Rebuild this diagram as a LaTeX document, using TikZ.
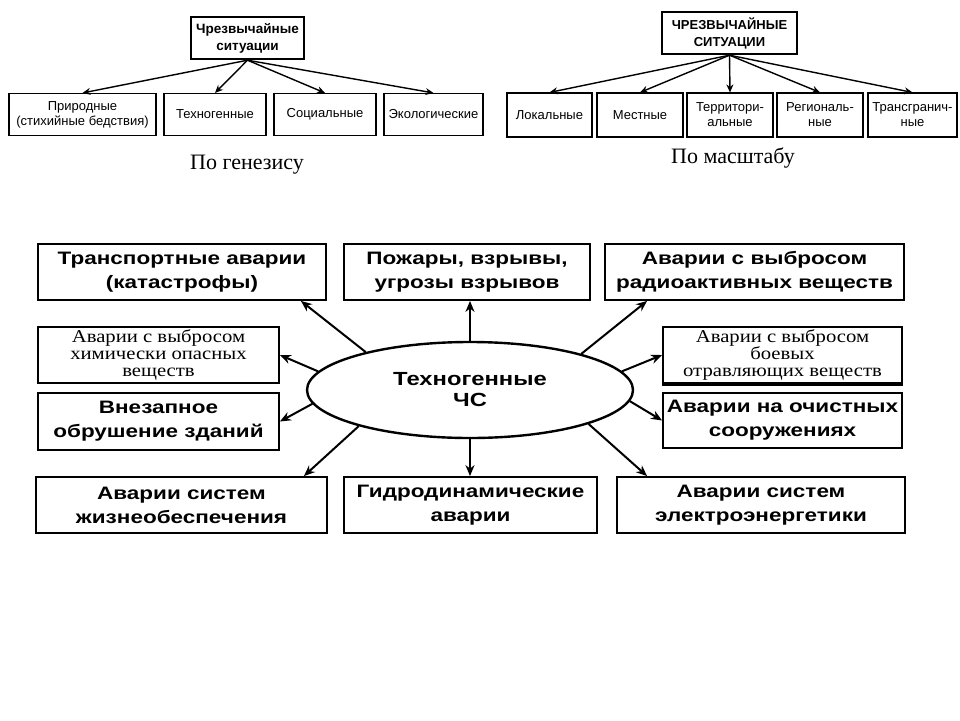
\documentclass[tikz,border=0pt]{standalone}
\usepackage{fontspec}
\usepackage{tikz}
\usetikzlibrary{arrows.meta,shapes.geometric}
\setmainfont{Liberation Sans}
\newfontfamily\widesans[FakeStretch=1.25]{Liberation Sans}
\newfontfamily\serifru{Liberation Serif}
\newfontfamily\wideserif[FakeStretch=1.15]{Liberation Serif}

\begin{document}
\begin{tikzpicture}[x=1pt,y=-1pt,
    smallbox/.style={draw,line width=1.1pt,inner sep=0pt,align=center,
      minimum height=42pt,font=\fontsize{13}{15}\selectfont},
    headbox/.style={draw,line width=2.4pt,inner sep=0pt,align=center,
      minimum height=42pt,font=\bfseries\fontsize{13.5}{17}\selectfont},
    bigbox/.style={draw,line width=1.8pt,inner sep=0pt,align=center,
      minimum height=56pt,font=\widesans\bfseries\fontsize{18}{24}\selectfont},
    oldbox/.style={bigbox,font=\wideserif\fontsize{18}{17}\selectfont},
    arr/.style={-{Stealth[length=8pt,width=7pt]},line width=1.4pt},
    bigarr/.style={-{Stealth[length=11pt,width=9pt]},line width=2pt}]
  \useasboundingbox (0,0) rectangle (960,720);

  % по генезису
  \node[headbox,minimum width=113pt] (gtop) at (247.5,38) {Чрезвычайные\\ситуации};
  \node[smallbox,minimum width=147pt] (g1) at (82.5,114.5) {Природные\\(стихийные бедствия)};
  \node[smallbox,minimum width=102pt] (g2) at (215,114.5) {Техногенные};
  \node[smallbox,minimum width=102pt] (g3) at (325,114.5) {Социальные};
  \node[smallbox,minimum width=99pt] (g4) at (433.5,114.5) {Экологические};
  \node[font=\serifru\fontsize{22}{24}\selectfont] (genesis) at (247,165) {По генезису};

  \draw[arr] (gtop.south) -- (g1.north);
  \draw[arr] (gtop.south) -- (g2.north);
  \draw[arr] (gtop.south) -- (g3.north);
  \draw[arr] (gtop.south) -- (g4.north);

  % по масштабу
  \node[headbox,minimum width=135pt,font=\bfseries\fontsize{13}{17}\selectfont] (mtop) at (729.5,33) {ЧРЕЗВЫЧАЙНЫЕ\\СИТУАЦИИ};
  \node[smallbox,minimum width=85pt,minimum height=44pt] (m1) at (549.5,115) {Локальные};
  \node[smallbox,minimum width=86pt,minimum height=44pt] (m2) at (640,115) {Местные};
  \node[smallbox,minimum width=86pt,minimum height=44pt] (m3) at (730,115) {Территори-\\альные};
  \node[smallbox,minimum width=86pt,minimum height=44pt] (m4) at (820,115) {Региональ-\\ные};
  \node[smallbox,minimum width=89pt,minimum height=44pt] (m5) at (912.5,115) {Трансгранич-\\ные};
  \node[font=\serifru\fontsize{22}{24}\selectfont] (scale) at (733,158) {По масштабу};

  \draw[arr] (mtop.south) -- (m1.north);
  \draw[arr] (mtop.south) -- (m2.north);
  \draw[arr] (mtop.south) -- (m3.north);
  \draw[arr] (mtop.south) -- (m4.north);
  \draw[arr] (mtop.south) -- (m5.north);

  % техногенные ЧС
  \node[draw,ellipse,line width=2.4pt,minimum width=326pt,minimum height=96pt,inner sep=0pt,
    align=center,font=\widesans\bfseries\fontsize{19}{21}\selectfont] (tech) at (470,390) {Техногенные\\ЧС};

  \node[bigbox,minimum width=288pt] (transp) at (182,272) {Транспортные аварии\\(катастрофы)};
  \node[bigbox,minimum width=246pt] (fire) at (467,272) {Пожары, взрывы,\\угрозы взрывов};
  \node[bigbox,minimum width=299pt] (rad) at (754.5,272) {Аварии с выбросом\\радиоактивных веществ};
  \node[oldbox,minimum width=241pt] (chem) at (158.5,355) {Аварии с выбросом\\химически опасных\\веществ};
  \node[oldbox,minimum width=239pt] (war) at (782.5,355) {Аварии с выбросом\\боевых\\отравляющих веществ};
  \draw[line width=3.2pt] (war.south west) -- (war.south east);
  \node[bigbox,minimum width=241pt,minimum height=57pt] (build) at (158.5,421.5) {Внезапное\\обрушение зданий};
  \node[bigbox,minimum width=239pt,minimum height=55pt] (clean) at (782.5,420.5) {Аварии на очистных\\сооружениях};
  \node[bigbox,minimum width=291pt] (life) at (181.5,505) {Аварии систем\\жизнеобеспечения};
  \node[bigbox,minimum width=253pt] (hydro) at (470.5,505) {Гидродинамические\\аварии};
  \node[bigbox,minimum width=288pt] (power) at (761,505) {Аварии систем\\электроэнергетики};

  \draw[bigarr] (tech.160.6) -- ([xshift=-26pt]transp.south east);
  \draw[bigarr] (tech.north) -- (tech.north |- fire.south);
  \draw[bigarr] (tech.18.1) -- ([xshift=43pt]rad.south west);
  \draw[bigarr] (tech.173.5) -- (chem.east);
  \draw[bigarr] (tech.7.3) -- (war.west);
  \draw[bigarr] (tech.185.4) -- (build.east);
  \draw[bigarr] (tech.-4.7) -- (clean.west);
  \draw[bigarr] (tech.198.4) -- ([xshift=-24pt]life.north east);
  \draw[bigarr] (tech.south) -- (tech.south |- hydro.north);
  \draw[bigarr] (tech.-16.8) -- ([xshift=31pt]power.north west);
\end{tikzpicture}
\end{document}
